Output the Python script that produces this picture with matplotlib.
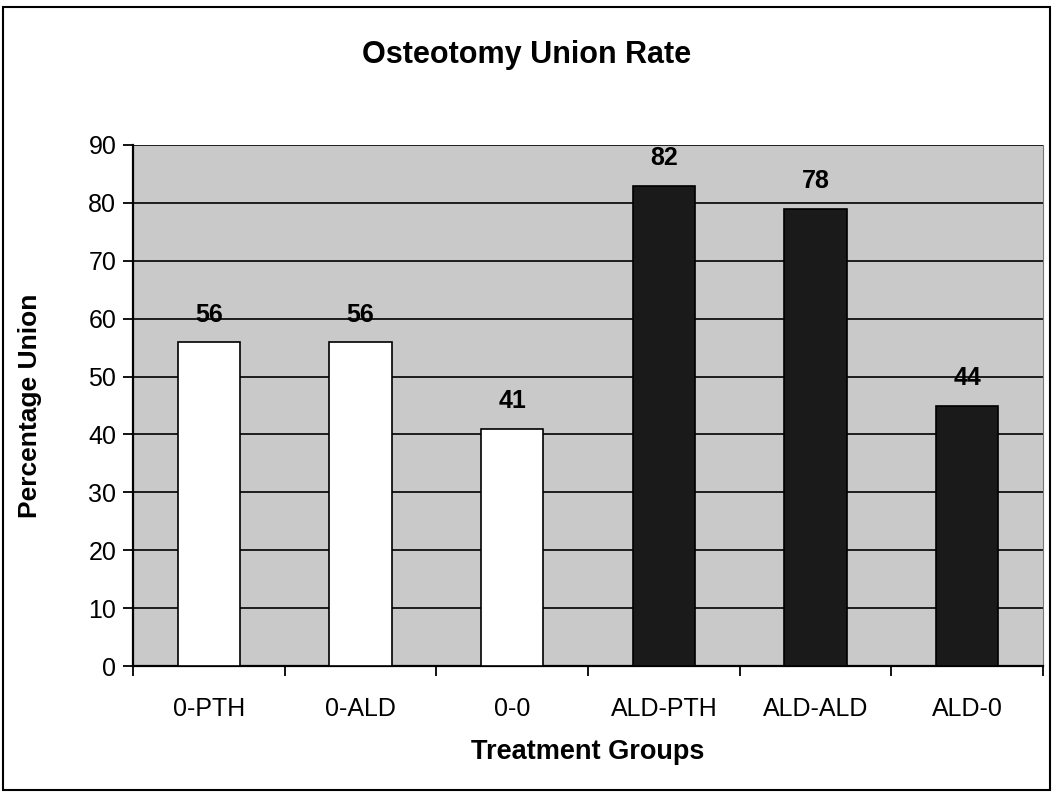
import numpy as np
import matplotlib.pyplot as plt
from matplotlib.patches import Rectangle

plt.rcParams['font.family'] = ['Liberation Sans', 'DejaVu Sans']

groups = ['0-PTH', '0-ALD', '0-0', 'ALD-PTH', 'ALD-ALD', 'ALD-0']
heights = [56, 56, 41, 83, 79, 45]      # bar tops as drawn
labels = [56, 56, 41, 82, 78, 44]       # printed values
colors = ['white', 'white', 'white', '#1a1a1a', '#1a1a1a', '#1a1a1a']

fig = plt.figure(figsize=(10.54, 7.95), dpi=100)
ax = fig.add_axes([133 / 1054, 1 - 666 / 795, (1043 - 133) / 1054, (666 - 145) / 795])

x = np.arange(len(groups))
ax.set_facecolor('#c9c9c9')
ax.set_axisbelow(True)
ax.yaxis.grid(True, color='black', linewidth=1.2)
ax.bar(x, heights, width=0.41, color=colors, edgecolor='black', linewidth=1.2, zorder=3)

for xi, h, lab in zip(x, heights, labels):
    ax.text(xi, h + 4.7, str(lab), ha='center', va='center', fontsize=18,
            fontweight='bold', zorder=4)

ax.set_xlim(-0.5, len(groups) - 0.5)
ax.set_ylim(0, 90)
ax.set_yticks(range(0, 91, 10))
ax.set_xticks(x)
ax.set_xticklabels(groups)
ax.set_xticks(np.arange(-0.5, len(groups), 1), minor=True)
ax.tick_params(axis='x', which='major', length=0, pad=22, labelsize=18)
ax.tick_params(axis='x', which='minor', length=7, width=1.3, direction='out')
ax.tick_params(axis='y', length=7, width=1.3, labelsize=18, pad=5)

for s in ['left', 'bottom']:
    ax.spines[s].set_linewidth(1.6)
ax.spines['top'].set_visible(False)
ax.spines['right'].set_color('#777777')

ax.set_ylabel('Percentage Union', fontsize=19, fontweight='bold', va='center')
ax.yaxis.set_label_coords((30 - 133) / 910, 0.5)
ax.set_xlabel('Treatment Groups', fontsize=19.5, fontweight='bold', va='center')
ax.xaxis.set_label_coords(0.5, (666 - 752) / 521)
fig.text(0.5, 1 - 55 / 795, 'Osteotomy Union Rate', ha='center', va='center',
         fontsize=22, fontweight='bold')

fig.patches.append(Rectangle((3 / 1054, 5 / 795), 1047 / 1054, 783 / 795,
                             transform=fig.transFigure, fill=False,
                             edgecolor='black', linewidth=1.5))

fig.savefig('out.png', dpi=100)
